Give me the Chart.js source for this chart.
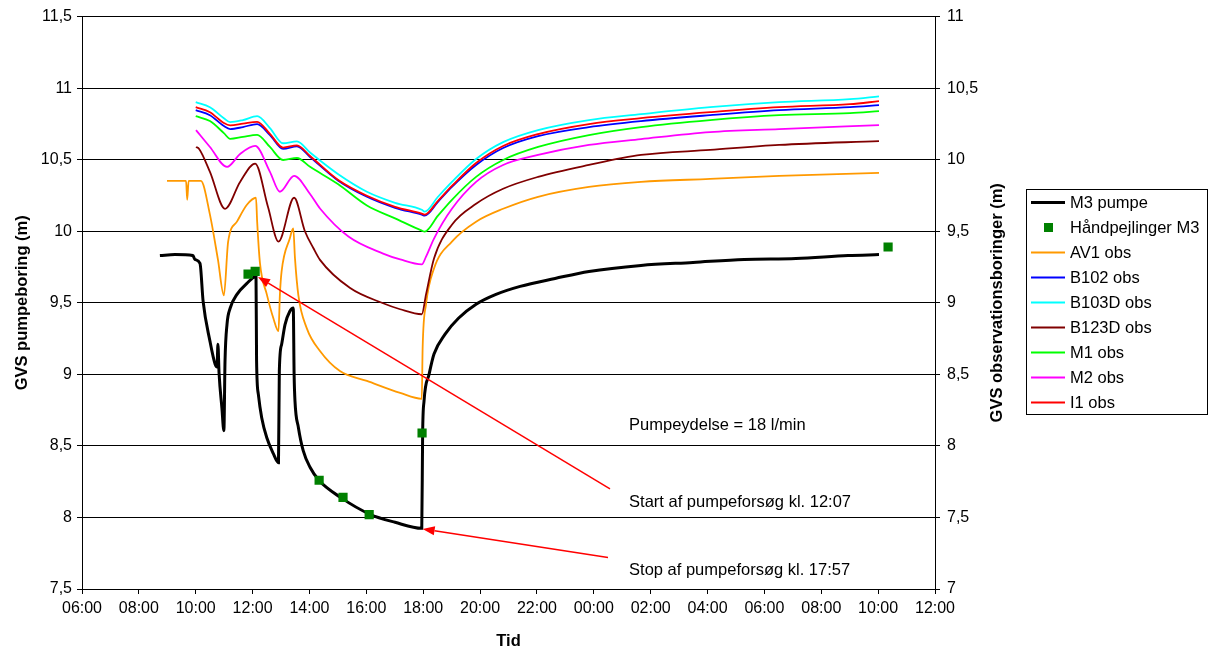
<!DOCTYPE html>
<html><head><meta charset="utf-8">
<script src="https://cdn.jsdelivr.net/npm/chart.js@4.4.1/dist/chart.umd.min.js"></script>
<style>html,body{margin:0;padding:0;background:#fff;}#wrap{width:1217px;height:655px;}</style>
</head><body><div id="wrap"><canvas id="c" width="1217" height="655"></canvas></div>
<script>
// ---------- data (hours counted from 00:00 on day 1; values in metres) ----------
const xTickLabels = ['06:00','08:00','10:00','12:00','14:00','16:00','18:00','20:00','22:00','00:00','02:00','04:00','06:00','08:00','10:00','12:00'];
const leftTickLabels = ['7,5','8','8,5','9','9,5','10','10,5','11','11,5'];
const rightTickLabels = ['7','7,5','8','8,5','9','9,5','10','10,5','11'];

const seriesNames = ['M3 pumpe','Håndpejlinger M3','AV1 obs','B102 obs','B103D obs','B123D obs','M1 obs','M2 obs','I1 obs'];

const m3Hours = [8.74,9.27,9.90,9.97,10.15,10.26,10.50,10.68,10.75,10.78,10.82,10.92,10.99,11.03,11.10,11.21,11.45,11.80,12.12,12.14,12.20,12.32,12.50,12.73,12.91,12.94,13.02,13.14,13.31,13.43,13.46,13.49,13.61,13.78,14.02,14.34,15.08,16.13,17.01,17.95,17.98,18.03,18.21,18.38,18.77,19.24,19.86,20.56,21.41,22.64,23.83,25.66,27.49,29.29,31.11,32.94,34.03];
const m3Level = [9.83,9.837,9.83,9.803,9.775,9.51,9.232,9.072,9.051,9.211,9.01,8.766,8.606,9.093,9.35,9.462,9.559,9.636,9.684,9.093,8.863,8.697,8.557,8.446,8.383,9.023,9.209,9.348,9.441,9.464,9.0,8.815,8.629,8.467,8.351,8.258,8.142,8.022,7.966,7.924,8.585,8.815,9.003,9.142,9.281,9.392,9.49,9.559,9.615,9.67,9.719,9.761,9.782,9.803,9.81,9.83,9.837];

const handHours = [11.84,12.09,14.34,15.18,16.10,17.96,34.35];
const handLevel = [9.70,9.72,8.26,8.14,8.02,8.59,9.89];

const av1Hours = [8.99,9.66,9.70,9.75,10.18,10.50,10.78,10.99,11.14,11.45,11.80,12.12,12.16,12.26,12.50,12.73,12.91,12.96,13.02,13.31,13.43,13.49,13.61,13.90,14.37,15.07,16.02,17.19,17.95,17.98,18.10,18.38,19.01,19.86,20.81,22.04,23.83,25.66,28.09,30.52,34.03];
const av1Level = [9.852,9.852,9.720,9.852,9.852,9.616,9.303,9.052,9.428,9.567,9.685,9.734,9.567,9.275,9.059,8.892,8.802,9.057,9.219,9.451,9.520,9.312,9.052,8.825,8.663,8.523,8.454,8.370,8.329,8.683,8.990,9.240,9.428,9.567,9.657,9.741,9.810,9.845,9.866,9.887,9.908];

const obsHours = [10.0,10.5,10.99,11.21,11.66,12.16,12.61,13.07,13.56,14.02,15.0,16.02,17.01,17.95,18.05,18.52,19.01,19.86,20.81,22.04,23.83,25.66,28.09,30.52,33.01,34.03];
const b102Level  = [10.346,10.311,10.235,10.214,10.228,10.249,10.172,10.075,10.093,10.019,9.855,9.741,9.664,9.616,9.609,9.706,9.810,9.963,10.082,10.165,10.228,10.270,10.311,10.346,10.367,10.381];
const b103dLevel = [10.402,10.367,10.290,10.263,10.277,10.304,10.221,10.115,10.128,10.050,9.900,9.776,9.699,9.650,9.637,9.741,9.845,10.005,10.123,10.207,10.277,10.318,10.367,10.402,10.423,10.443];
const m1Level    = [10.304,10.270,10.186,10.146,10.160,10.174,10.089,9.998,10.012,9.950,9.830,9.680,9.590,9.504,9.497,9.609,9.720,9.880,9.998,10.089,10.172,10.228,10.277,10.311,10.325,10.339];
const i1Level    = [10.367,10.332,10.256,10.240,10.252,10.265,10.180,10.085,10.100,10.026,9.860,9.748,9.671,9.623,9.616,9.713,9.817,9.977,10.096,10.179,10.249,10.290,10.332,10.367,10.388,10.409];

const b123dHours = [10.01,10.12,10.50,11.03,11.56,12.09,12.54,12.91,13.46,13.84,14.14,14.37,15.43,16.59,17.19,17.95,18.10,18.38,19.01,19.86,20.81,22.04,23.83,25.66,28.09,30.52,34.03];
const b123dLevel = [10.089,10.075,9.915,9.657,9.845,9.973,9.671,9.428,9.734,9.500,9.381,9.300,9.103,8.997,8.955,8.920,9.059,9.310,9.546,9.692,9.797,9.880,9.963,10.033,10.068,10.103,10.130];

const m2Hours = [10.01,10.50,11.10,11.56,12.09,12.61,12.96,13.46,14.02,14.37,15.37,16.59,17.19,17.95,18.10,18.38,19.01,19.86,20.81,22.04,23.83,25.66,28.09,30.52,34.03];
const m2Level = [10.207,10.089,9.950,10.040,10.096,9.915,9.776,9.887,9.760,9.659,9.463,9.344,9.303,9.268,9.323,9.449,9.657,9.845,9.963,10.033,10.103,10.144,10.193,10.214,10.242];

// annotations (left-axis units)
const annotationTexts = ['Pumpeydelse = 18 l/min','Start af pumpeforsøg kl. 12:07','Stop af pumpeforsøg kl. 17:57'];
const annotationAt = [[25.24,8.64],[25.24,8.105],[25.24,7.632]];
const arrowTails = [[24.57,8.20],[24.50,7.72]];
const arrowTips  = [[12.19,9.68],[17.98,7.92]];

// ---------- chart ----------
const FONT = '"Liberation Sans", Arial, sans-serif';
Chart.defaults.font.family = FONT;
Chart.defaults.color = '#000';

const colors = ['#000000','#008000','#FF9900','#0000FF','#00FFFF','#800000','#00FF00','#FF00FF','#FF0000'];
const pts = (h, v) => h.map((x, i) => ({x, y: v[i]}));
function lineDs(idx, hours, vals, width, axis) {
  return {label: seriesNames[idx], data: pts(hours, vals), borderColor: colors[idx], backgroundColor: colors[idx],
    borderWidth: width, pointRadius: 0, showLine: true, yAxisID: axis, order: 9 - idx,
    cubicInterpolationMode: 'monotone', fill: false};
}
const datasets = [
  lineDs(0, m3Hours, m3Level, 3, 'y'),
  {label: seriesNames[1], data: pts(handHours, handLevel), borderColor: colors[1], backgroundColor: colors[1],
   pointStyle: 'rect', pointRadius: 6.5, borderWidth: 0, showLine: false, yAxisID: 'y', order: 0},
  lineDs(2, av1Hours, av1Level, 1.8, 'y2'),
  lineDs(3, obsHours, b102Level, 1.8, 'y2'),
  lineDs(4, obsHours, b103dLevel, 1.8, 'y2'),
  lineDs(5, b123dHours, b123dLevel, 1.8, 'y2'),
  lineDs(6, obsHours, m1Level, 1.8, 'y2'),
  lineDs(7, m2Hours, m2Level, 1.8, 'y2'),
  lineDs(8, obsHours, i1Level, 1.8, 'y2'),
];

const tickFont = {size: 16, family: FONT};
const titleFont = {size: 16.5, weight: 'bold', family: FONT};

const overlay = {
  id: 'overlay',
  afterDatasetsDraw(chart) {
    const ctx = chart.ctx, xs = chart.scales.x, ys = chart.scales.y;
    ctx.save();
    ctx.strokeStyle = '#FF0000'; ctx.fillStyle = '#FF0000'; ctx.lineWidth = 1.5;
    arrowTails.forEach((t, i) => {
      const x1 = xs.getPixelForValue(t[0]), y1 = ys.getPixelForValue(t[1]);
      const x2 = xs.getPixelForValue(arrowTips[i][0]), y2 = ys.getPixelForValue(arrowTips[i][1]);
      const a = Math.atan2(y2 - y1, x2 - x1), L = 12, W = 4.5;
      const bx = x2 - L * Math.cos(a), by = y2 - L * Math.sin(a);
      ctx.beginPath(); ctx.moveTo(x1, y1); ctx.lineTo(bx, by); ctx.stroke();
      ctx.beginPath(); ctx.moveTo(x2, y2);
      ctx.lineTo(bx + W * Math.sin(a), by - W * Math.cos(a));
      ctx.lineTo(bx - W * Math.sin(a), by + W * Math.cos(a));
      ctx.closePath(); ctx.fill();
    });
    ctx.fillStyle = '#000'; ctx.font = '16.5px ' + FONT; ctx.textBaseline = 'middle'; ctx.textAlign = 'left';
    annotationTexts.forEach((t, i) => {
      ctx.fillText(t, xs.getPixelForValue(annotationAt[i][0]), ys.getPixelForValue(annotationAt[i][1]));
    });
    ctx.restore();
  },
  afterDraw(chart) {
    const ctx = chart.ctx, area = chart.chartArea;
    ctx.save();
    ctx.font = 'bold 16.5px ' + FONT; ctx.fillStyle = '#000'; ctx.textAlign = 'center'; ctx.textBaseline = 'middle';
    ctx.translate(997, (area.top + area.bottom) / 2); ctx.rotate(-Math.PI / 2);
    ctx.fillText('GVS observationsboringer (m)', 0, 0);
    ctx.setTransform(1, 0, 0, 1, 0, 0);
    const lx = 1026, ly = 189, lw = 181, lh = 225;
    ctx.fillStyle = '#fff'; ctx.fillRect(lx, ly, lw, lh);
    ctx.strokeStyle = '#000'; ctx.lineWidth = 1; ctx.strokeRect(lx + 0.5, ly + 0.5, lw, lh);
    ctx.font = '16.5px ' + FONT; ctx.textAlign = 'left'; ctx.textBaseline = 'middle';
    seriesNames.forEach((name, i) => {
      const y = 202.5 + i * 25;
      if (i === 1) {
        ctx.fillStyle = colors[1]; ctx.fillRect(1044, y - 4.5, 9, 9);
      } else {
        ctx.strokeStyle = colors[i]; ctx.lineWidth = i === 0 ? 3 : 2;
        ctx.beginPath(); ctx.moveTo(1031, y); ctx.lineTo(1065, y); ctx.stroke();
      }
      ctx.fillStyle = '#000'; ctx.fillText(name, 1070, y + 1);
    });
    ctx.restore();
  }
};

new Chart(document.getElementById('c'), {
  type: 'scatter',
  data: {datasets},
  options: {
    responsive: false, animation: false, devicePixelRatio: 1,
    layout: {padding: {top: 14, right: 207, bottom: 0, left: 0}},
    plugins: {legend: {display: false}, tooltip: {enabled: false}},
    scales: {
      x: {type: 'linear', position: 'bottom', min: 6, max: 36,
        ticks: {stepSize: 2, autoSkip: false, maxRotation: 0, padding: 5, font: tickFont, color: '#000',
          callback: v => xTickLabels[Math.round((v - 6) / 2)]},
        grid: {drawOnChartArea: false, drawTicks: true, tickLength: 5, color: '#000'},
        border: {display: true, color: '#000', width: 1},
        title: {display: true, text: 'Tid', font: titleFont, color: '#000', padding: {top: 0, bottom: 4}},
        afterFit: s => { s.height = 66; }},
      y: {type: 'linear', position: 'left', min: 7.5, max: 11.5,
        ticks: {stepSize: 0.5, padding: 5, font: tickFont, color: '#000',
          callback: v => leftTickLabels[Math.round((v - 7.5) / 0.5)]},
        grid: {color: '#000', lineWidth: 1, tickLength: 5},
        border: {display: true, color: '#000', width: 1},
        title: {display: true, text: 'GVS pumpeboring (m)', font: titleFont, color: '#000', padding: {top: 13, bottom: 0}},
        afterFit: s => { s.width = 82; }},
      y2: {type: 'linear', position: 'right', min: 7, max: 11,
        ticks: {stepSize: 0.5, padding: 7, font: tickFont, color: '#000',
          callback: v => rightTickLabels[Math.round((v - 7) / 0.5)]},
        grid: {drawOnChartArea: false, tickLength: 5, color: '#000'},
        border: {display: true, color: '#000', width: 1},
        afterFit: s => { s.width = 75; }}
    }
  },
  plugins: [overlay]
});
</script></body></html>
